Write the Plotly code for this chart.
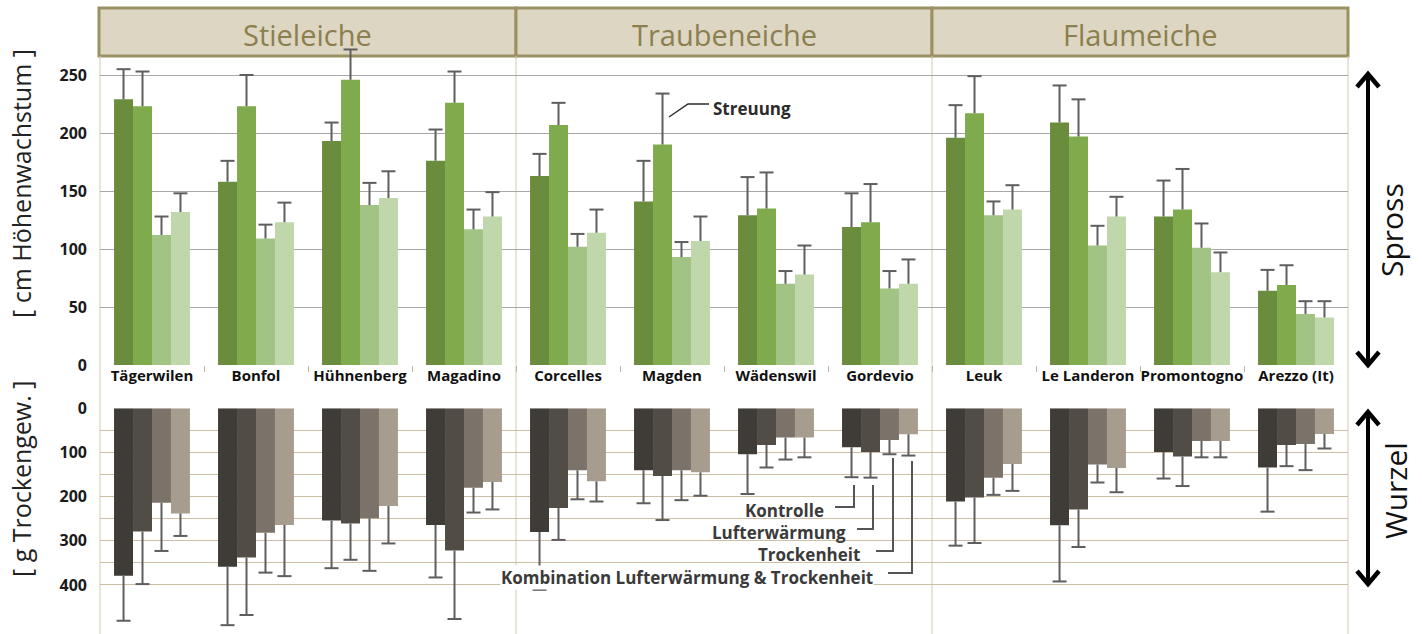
import plotly.graph_objects as go

W, H = 1422, 634


def px(x):
    return x / W


def py(y):
    return 1 - y / H


sites = ["Tägerwilen", "Bonfol", "Hühnenberg", "Magadino",
         "Corcelles", "Magden", "Wädenswil", "Gordevio",
         "Leuk", "Le Landeron", "Promontogno", "Arezzo (It)"]
species = ["Stieleiche", "Traubeneiche", "Flaumeiche"]
treatments = ["Kontrolle", "Lufterwärmung", "Trockenheit",
              "Kombination Lufterwärmung & Trockenheit"]

# Spross (cm Höhenwachstum)
spross_kontrolle = [229, 158, 193, 176, 163, 141, 129, 119, 196, 209, 128, 64]
spross_kontrolle_sd = [26, 18, 16, 27, 19, 35, 33, 29, 28, 32, 31, 18]
spross_luft = [223, 223, 246, 226, 207, 190, 135, 123, 217, 197, 134, 69]
spross_luft_sd = [30, 27, 26, 27, 19, 44, 31, 33, 32, 32, 35, 17]
spross_trocken = [112, 109, 138, 117, 102, 93, 70, 66, 129, 103, 101, 44]
spross_trocken_sd = [16, 12, 19, 17, 11, 13, 11, 15, 12, 17, 21, 11]
spross_komb = [132, 123, 144, 128, 114, 107, 78, 70, 134, 128, 80, 41]
spross_komb_sd = [16, 17, 23, 21, 20, 21, 25, 21, 21, 17, 17, 14]

# Wurzel (g Trockengewicht)
wurzel_kontrolle = [379, 359, 254, 264, 280, 140, 104, 88, 211, 265, 99, 134]
wurzel_kontrolle_sd = [102, 132, 108, 119, 131, 75, 90, 68, 100, 127, 60, 100]
wurzel_luft = [279, 338, 261, 322, 226, 153, 83, 99, 202, 229, 109, 83]
wurzel_luft_sd = [119, 130, 82, 155, 72, 100, 51, 58, 103, 85, 67, 48]
wurzel_trocken = [214, 282, 249, 180, 140, 140, 66, 72, 157, 127, 74, 81]
wurzel_trocken_sd = [109, 90, 119, 56, 66, 68, 50, 32, 39, 41, 37, 59]
wurzel_komb = [238, 264, 221, 167, 165, 145, 66, 59, 126, 135, 74, 58]
wurzel_komb_sd = [51, 116, 85, 62, 46, 53, 45, 48, 61, 55, 37, 33]

spross_ticks = [0, 50, 100, 150, 200, 250]
wurzel_ticks = [0, 50, 100, 150, 200, 250, 300, 350, 400]
wurzel_ticktext = ["0", "", "100", "", "200", "", "300", "", "400"]

greens = ["#6a8c3d", "#7fab4c", "#a1c383", "#c0d7ab"]
browns = ["#3f3c37", "#524c46", "#7b7369", "#a69d8f"]
ERR = "#5e5e5e"
FONT = "Open Sans"

upper = [(spross_kontrolle, spross_kontrolle_sd), (spross_luft, spross_luft_sd),
         (spross_trocken, spross_trocken_sd), (spross_komb, spross_komb_sd)]
lower = [(wurzel_kontrolle, wurzel_kontrolle_sd), (wurzel_luft, wurzel_luft_sd),
         (wurzel_trocken, wurzel_trocken_sd), (wurzel_komb, wurzel_komb_sd)]

BARGAP = 0.27
n = len(treatments)
bw = (1 - BARGAP) / n
idx = list(range(len(sites)))

fig = go.Figure()


def add_block(data, colors, xa, ya):
    for k, (vals, sd) in enumerate(data):
        fig.add_trace(go.Bar(
            x=idx, y=vals, name=treatments[k], marker_color=colors[k],
            marker_line_width=0, xaxis=xa, yaxis=ya, showlegend=False,
            error_y=dict(type="data", symmetric=False, array=sd,
                         arrayminus=[0] * len(sd), color=ERR,
                         thickness=2, width=0)))
    for k, (vals, sd) in enumerate(data):
        off = (k - (n - 1) / 2) * bw
        fig.add_trace(go.Scatter(
            x=[i + off for i in idx], y=[v + s for v, s in zip(vals, sd)],
            mode="markers", xaxis=xa, yaxis=ya, showlegend=False,
            hoverinfo="skip", cliponaxis=False,
            marker=dict(symbol="line-ew", size=10,
                        line=dict(width=2, color=ERR))))


add_block(upper, greens, "x", "y")
add_block(lower, browns, "x2", "y2")

XL, XR = 100, 1348
shapes = []
# header boxes
hx = [99, 516, 932, 1348]
for s in range(3):
    shapes.append(dict(type="rect", xref="paper", yref="paper",
                       x0=px(hx[s]), x1=px(hx[s + 1]), y0=py(56), y1=py(8),
                       fillcolor="#ddd6c3", line=dict(color="#9b9162", width=3),
                       layer="below"))
# vertical separators
for xv in [100, 516, 932, 1348]:
    shapes.append(dict(type="line", xref="paper", yref="paper",
                       x0=px(xv), x1=px(xv), y0=py(56), y1=0,
                       line=dict(color="#d5cab0", width=1), layer="below"))


def path(points):
    return "M " + " L ".join(f"{px(a)},{py(b)}" for a, b in points)


def arrow(x, t, b):
    shapes.append(dict(type="line", xref="paper", yref="paper",
                       x0=px(x), x1=px(x), y0=py(t + 2), y1=py(b - 2),
                       line=dict(color="black", width=4)))
    shapes.append(dict(type="path", xref="paper", yref="paper",
                       path=path([(x - 11, t + 14), (x, t + 1), (x + 11, t + 14)]),
                       line=dict(color="black", width=4.5)))
    shapes.append(dict(type="path", xref="paper", yref="paper",
                       path=path([(x - 11, b - 14), (x, b - 1), (x + 11, b - 14)]),
                       line=dict(color="black", width=4.5)))


arrow(1368, 73, 366)
arrow(1368, 411, 585)

# Streuung pointer
shapes.append(dict(type="path", xref="paper", yref="paper",
                   path=path([(669, 117), (688, 104), (709, 104)]),
                   line=dict(color="#2b2b2b", width=1.5)))

# legend pointers
legend_lines = [
    [(835, 507), (854, 507), (854, 485)],
    [(857, 529), (873, 529), (873, 485)],
    [(876, 551), (893, 551), (893, 458)],
    [(888, 573), (912, 573), (912, 461)],
]
for pts in legend_lines:
    shapes.append(dict(type="path", xref="paper", yref="paper", path=path(pts),
                       line=dict(color="#555555", width=2)))

annotations = []
for s, name in enumerate(species):
    annotations.append(dict(text=name, x=px((hx[s] + hx[s + 1]) / 2), y=py(34),
                            font=dict(family=FONT, size=29, color="#8b7f4e")))

annotations += [
    dict(text="[ cm Höhenwachstum ]", x=px(21), y=py(184), textangle=-90,
         font=dict(family=FONT, size=25, color="#222")),
    dict(text="[ g Trockengew. ]", x=px(21), y=py(479), textangle=-90,
         font=dict(family=FONT, size=25, color="#222")),
    dict(text="Spross", x=px(1392), y=py(230), textangle=-90,
         font=dict(family=FONT, size=30, color="#111")),
    dict(text="Wurzel", x=px(1395), y=py(491), textangle=-90,
         font=dict(family=FONT, size=30, color="#111")),
    dict(text="Streuung", x=px(711), y=py(108), xanchor="left",
         font=dict(family=FONT, size=17, color="#2b2b2b", weight="bold")),
]
legend_pos = [(826, 510), (848, 532), (862, 554), (874, 577)]
for k, (name, (lx, ly)) in enumerate(zip(treatments, legend_pos)):
    ann = dict(text=name, x=px(lx), y=py(ly), xanchor="right",
               font=dict(family=FONT, size=17, color="#3a3a3a", weight="bold"))
    if k == len(treatments) - 1:
        ann.update(bgcolor="white", borderpad=0)
    annotations.append(ann)
for a in annotations:
    a.setdefault("xref", "paper")
    a.setdefault("yref", "paper")
    a.setdefault("showarrow", False)
    a.setdefault("yanchor", "middle")
    a.setdefault("xanchor", "center")

tickfont = dict(family=FONT, size=16, color="#1a1a1a", weight="bold")

fig.update_layout(
    width=W, height=H, autosize=False,
    margin=dict(l=0, r=0, t=0, b=0, pad=0, autoexpand=False),
    paper_bgcolor="white", plot_bgcolor="rgba(0,0,0,0)",
    barmode="group", bargap=BARGAP, bargroupgap=0,
    shapes=shapes, annotations=annotations,
    xaxis=dict(domain=[px(XL), px(XR)], range=[-0.5, 11.5], anchor="y",
               automargin=False,
               tickvals=idx, ticktext=sites, ticks="", showgrid=False,
               zeroline=False, showline=False,
               tickfont=dict(family=FONT, size=15, color="#111", weight="bold"),
               minor=dict(tickvals=[i + 0.5 for i in range(11)], ticks="outside",
                          ticklen=6, tickcolor="#bdb49c", showgrid=False)),
    xaxis2=dict(domain=[px(XL), px(XR)], range=[-0.5, 11.5], anchor="y2",
                automargin=False,
                showticklabels=False, ticks="", showgrid=False, zeroline=False,
                showline=False),
    yaxis=dict(domain=[py(365), py(34.4)], range=[0, 285], anchor="x",
               automargin=False,
               tickvals=spross_ticks, gridcolor="#a8a8a8", gridwidth=1,
               zeroline=False, showline=False, ticks="", tickfont=tickfont,
               ticklabelstandoff=12),
    yaxis2=dict(domain=[0, py(408.3)], range=[511, 0], anchor="x2",
                automargin=False,
                tickvals=wurzel_ticks, ticktext=wurzel_ticktext,
                gridcolor="#cdbfa5", gridwidth=1, zeroline=False,
                showline=False, ticks="", tickfont=tickfont,
                ticklabelstandoff=12),
)

post = (
    "var gd=document.getElementById('{plot_id}');"
    "gd.style.position='fixed';gd.style.top='0px';gd.style.left='0px';"
    "document.body.style.margin='0';"
    "document.documentElement.style.overflow='hidden';"
    "document.body.style.overflow='hidden';"
)

fig.write_html(
    "out.html",
    config={"responsive": False, "displayModeBar": False},
    post_script=post,
)
